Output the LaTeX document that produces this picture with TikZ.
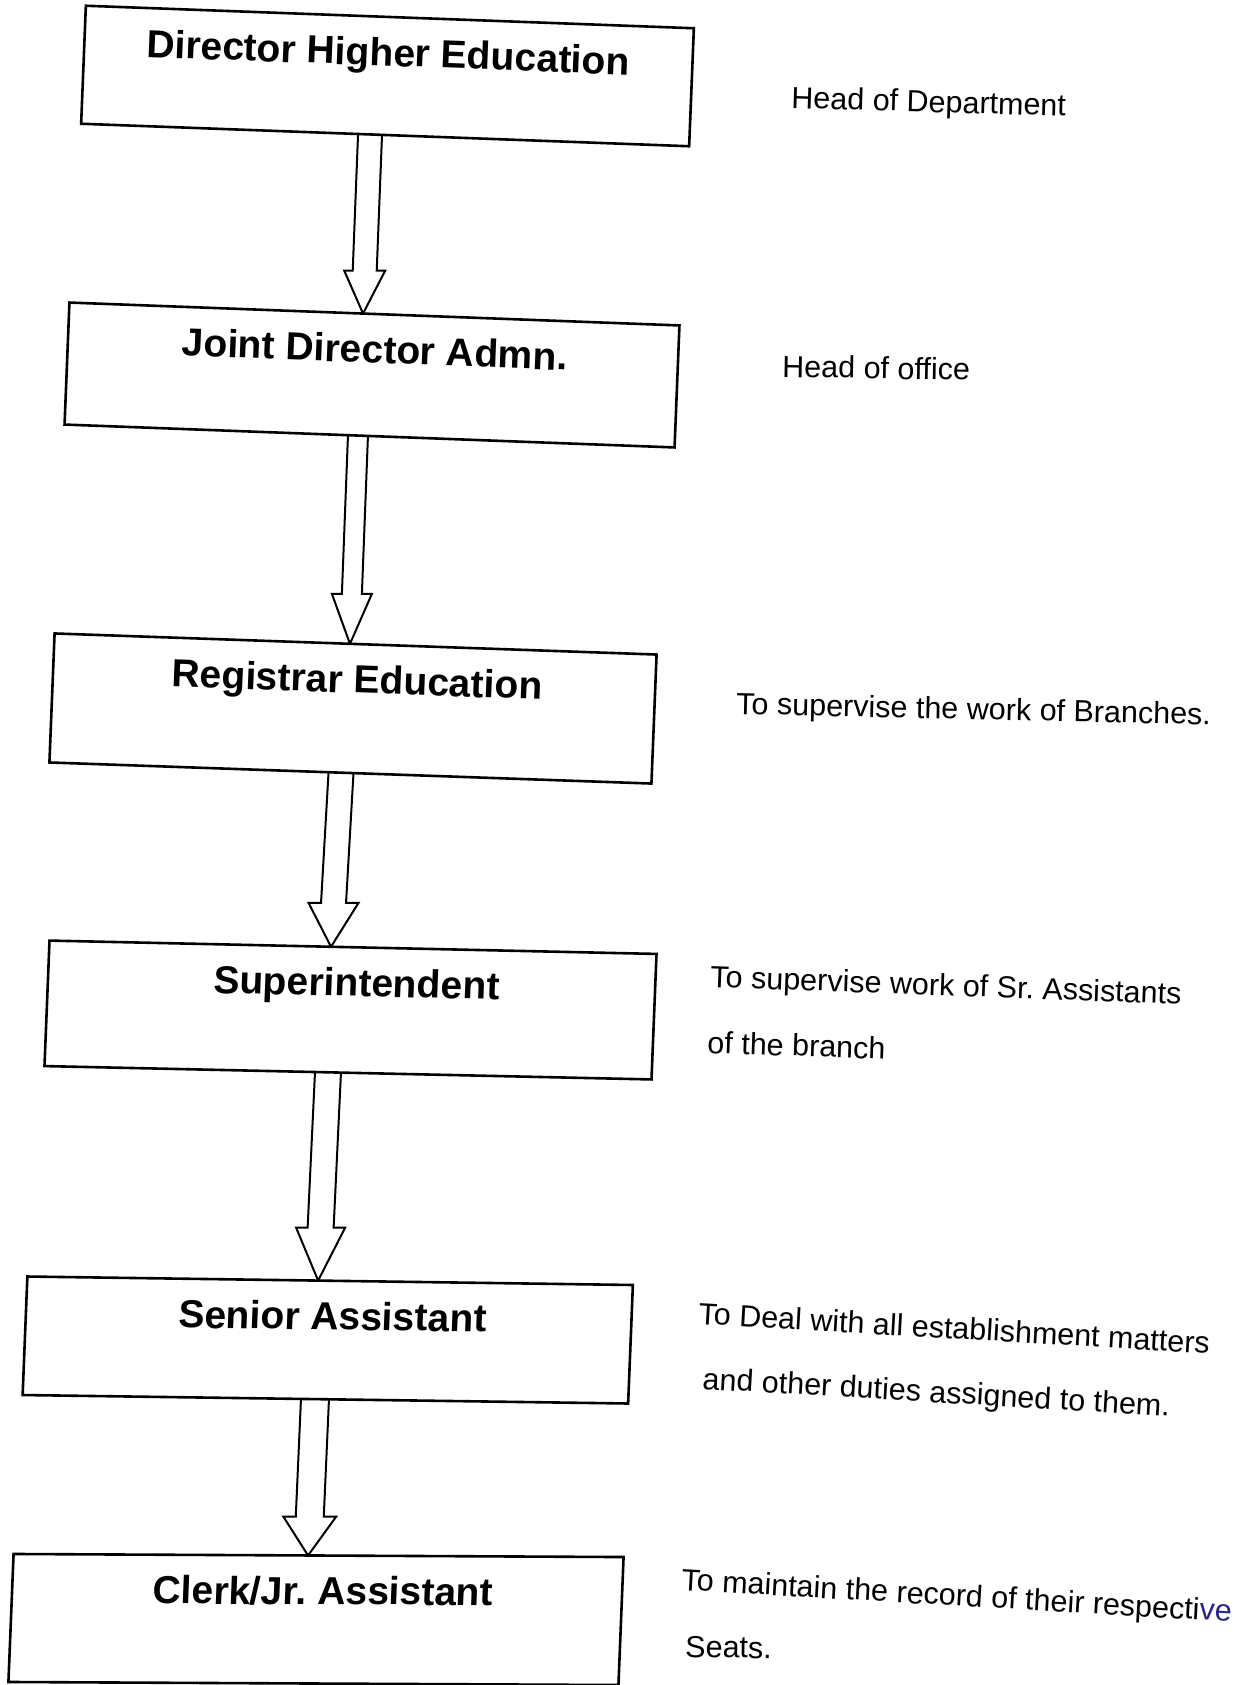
\documentclass[tikz,border=0pt]{standalone}
\usepackage{fontspec}
\setmainfont{Liberation Sans}
\usetikzlibrary{calc}
\pgfdeclarelayer{bg}
\pgfdeclarelayer{paper}
\pgfsetlayers{paper,bg,main}
\definecolor{inkblue}{RGB}{35,35,150}
% block arrow from coordinate #1 (shaft start) to coordinate #2 (tip)
% #3 head length, #4 shaft width, #5 head width
\newcommand{\blockarrow}[5]{%
  \coordinate (#1h) at ($(#2)!#3pt!(#1)$);
  \path[arrowline] ($(#1)+(-#4/2,0)$) -- ($(#1h)+(-#4/2,0)$) -- ($(#1h)+(-#5/2,0)$)
     -- (#2) -- ($(#1h)+(#5/2,0)$) -- ($(#1h)+(#4/2,0)$) -- ($(#1)+(#4/2,0)$);%
}
\frenchspacing
\begin{document}
\begin{tikzpicture}[x=1pt,y=-1pt,
  boxshape/.style={draw=black, line width=2.6pt, fill=white, rectangle, inner sep=0pt, outer sep=0pt},
  titletext/.style={font=\fontsize{39}{46}\selectfont\bfseries, anchor=base, inner sep=0pt},
  desctext/.style={font=\fontsize{30.5}{36}\selectfont, anchor=base west, inner sep=0pt},
  arrowline/.style={draw=black, line width=2pt, fill=white, line join=miter}]
\begin{pgfonlayer}{paper}
  \fill[white] (0,0) rectangle (1255,1685);
\end{pgfonlayer}
\useasboundingbox (0,0) rectangle (1255,1685);

% ---------- boxes ----------
\begin{scope}[shift={(387.5,76)}, cm={1,-0.037,0.04,1,(0,0)}, transform shape]
  \node[boxshape, minimum width=608pt, minimum height=118pt] (b1) at (0,0) {};
  \node[titletext] (t1) at (0,-10) {Director Higher Education};
  \coordinate (b1out) at (-15.1,59);
\end{scope}

\begin{scope}[shift={(372,375)}, cm={1,-0.0375,0.04,1,(0,0)}, transform shape]
  \node[boxshape, minimum width=610pt, minimum height=122pt] (b2) at (0,0) {};
  \node[titletext] (t2) at (2,-12) {Joint Director Admn.};
  \coordinate (b2in) at (-11.4,-61);
  \coordinate (b2out) at (-11.6,61);
\end{scope}

\begin{scope}[shift={(353,708.5)}, cm={1,-0.035,0.04,1,(0,0)}, transform shape]
  \node[boxshape, minimum width=602pt, minimum height=129pt] (b3) at (0,0) {};
  \node[titletext] (t3) at (3,-15.5) {Registrar Education};
  \coordinate (b3in) at (-5.6,-64.5);
  \coordinate (b3out) at (-9.4,64.5);
\end{scope}

\begin{scope}[shift={(350.5,1010)}, cm={1,-0.022,0.04,1,(0,0)}, transform shape]
  \node[boxshape, minimum width=607pt, minimum height=125.5pt] (b4) at (0,0) {};
  \node[titletext] (t4) at (5,-13.75) {Superintendent};
  \coordinate (b4in) at (-22,-62.75);
  \coordinate (b4out) at (-20,62.75);
\end{scope}

\begin{scope}[shift={(327.75,1340)}, cm={1,-0.014,0.04,1,(0,0)}, transform shape]
  \node[boxshape, minimum width=605.5pt, minimum height=118.5pt] (b5) at (0,0) {};
  \node[titletext] (t5) at (4,-10.25) {Senior Assistant};
  \coordinate (b5in) at (-12,-59.25);
  \coordinate (b5out) at (-10.4,59.25);
\end{scope}

\begin{scope}[shift={(316,1619.5)}, cm={1,-0.005,0.04,1,(0,0)}, transform shape]
  \node[boxshape, minimum width=610pt, minimum height=128pt] (b6) at (0,0) {};
  \node[titletext] (t6) at (6,-15) {Clerk/Jr. Assistant};
  \coordinate (b6in) at (-10.5,-64);
\end{scope}

% ---------- arrows ----------
\begin{pgfonlayer}{bg}
  \blockarrow{b1out}{b2in}{43}{24}{41}
  \blockarrow{b2out}{b3in}{50}{20}{40}
  \blockarrow{b3out}{b4in}{44}{25}{50}
  \blockarrow{b4out}{b5in}{53}{26}{49}
  \blockarrow{b5out}{b6in}{39}{28}{53}
\end{pgfonlayer}

% ---------- descriptions ----------
\node[desctext, rotate=-1.7] (d1) at (791,108) {Head of Department};
\node[desctext, rotate=-1] (d2) at (782,377) {Head of office};
\node[desctext, rotate=-1.3] (d3) at (736,714) {To supervise the work of Branches.};
\node[desctext, rotate=-2.1] (d4) at (710,987) {To supervise work of Sr. Assistants};
\node[desctext, rotate=-2] (d5) at (707,1053) {of the branch};
\node[desctext, rotate=-3.3] (d6) at (698,1324) {To Deal with all establishment matters};
\node[desctext, rotate=-3.3] (d7) at (702,1389) {and other duties assigned to them.};
\node[desctext, rotate=-3.3] (d8) at (681,1590) {To maintain the record of their respecti\textcolor{inkblue}{ve}};
\node[desctext, rotate=-1] (d9) at (685,1657) {Seats.};
\end{tikzpicture}
\end{document}
